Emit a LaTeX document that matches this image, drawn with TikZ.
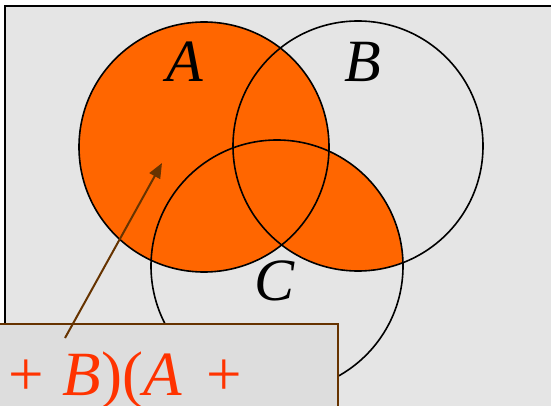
\documentclass[tikz,border=0pt]{standalone}
\usepackage{fontspec}
\setmainfont{Liberation Serif}
\usetikzlibrary{arrows.meta}
\definecolor{vorange}{HTML}{FF6600}
\definecolor{vred}{HTML}{FF3300}
\definecolor{vbrown}{HTML}{663300}
\definecolor{bggray}{HTML}{E5E5E5}
\definecolor{boxgray}{HTML}{DDDDDD}
\tikzset{
  circ/.style={draw=black, line width=1.6pt},
  setlab/.style={font=\fontsize{60}{60}\selectfont\itshape, inner sep=0pt},
  exprtext/.style={font=\fontsize{63}{63}\selectfont, text=vred, inner sep=0pt, anchor=base west},
  labelbox/.style={draw=vbrown, fill=boxgray, line width=1.5pt, anchor=north west, inner sep=0pt, minimum width=357pt, minimum height=110pt},
  arr/.style={draw=vbrown, line width=2pt, -{Triangle[length=15pt,width=12pt]}}
}
\begin{document}
\begin{tikzpicture}[x=1pt,y=-1pt]
\useasboundingbox (0,0) rectangle (551,406);
\clip (0,0) rectangle (551,406);
\draw[fill=bggray, line width=2pt] (4.5,6.5) rectangle (570,430);
\coordinate (A) at (204,147);
\coordinate (B) at (358,146);
\coordinate (C) at (277,266);
\fill[vorange] (A) circle (125);
\begin{scope}
  \clip (B) circle (125);
  \fill[vorange] (C) circle (126);
\end{scope}
\draw[circ] (A) circle (125);
\draw[circ] (B) circle (125);
\draw[circ] (C) circle (126);
\node[setlab] (la) at (185,62) {A};
\node[setlab] (lb) at (363,62) {B};
\node[setlab] (lc) at (275,281) {C};
\node[labelbox] (box) at (-20,323) {};
\node[exprtext] (expr) at (8,395) {+\hspace{0.3em}\textit{B})(\textit{A}\hspace{0.4em}+};
\coordinate (s) at (65,338);
\coordinate (t) at (162,163);
\draw[arr] (s) -- (t);
\end{tikzpicture}
\end{document}
